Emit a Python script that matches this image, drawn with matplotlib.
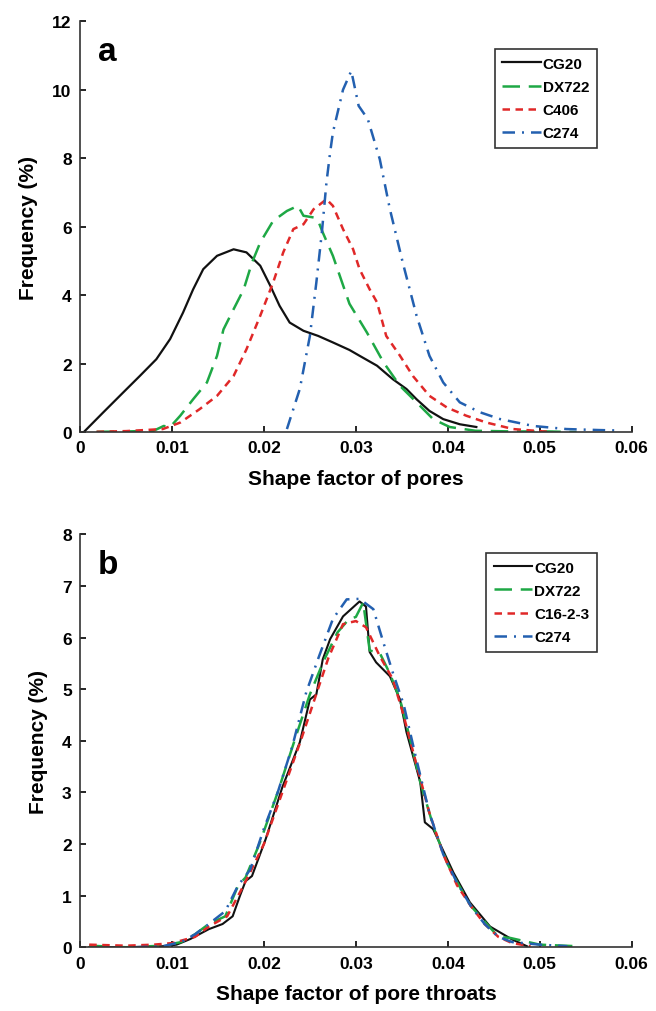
"""
Shape factor distributions of pores and pore throats.
"""

import matplotlib.pyplot as plt

plt.rcParams["font.family"] = ["Liberation Sans", "DejaVu Sans"]
plt.rcParams["font.weight"] = "bold"

# ---- panel a: pores ----
a_cg20_x = [0.0004, 0.0025, 0.0047, 0.0065, 0.0083, 0.0098, 0.0112, 0.0123, 0.0134, 0.0149, 0.0167,
            0.0181, 0.0196, 0.0207, 0.0217, 0.0228, 0.0243, 0.0259, 0.0275, 0.0293, 0.0304, 0.0323,
            0.034, 0.0355, 0.0366, 0.038, 0.0395, 0.0413, 0.0431]
a_cg20_y = [0.0, 0.57, 1.16, 1.64, 2.13, 2.72, 3.49, 4.17, 4.76, 5.15, 5.34,
            5.25, 4.86, 4.27, 3.69, 3.2, 2.96, 2.81, 2.62, 2.4, 2.23, 1.94,
            1.55, 1.26, 0.96, 0.62, 0.38, 0.23, 0.15]

a_dx722_x = [0.0018, 0.005, 0.008, 0.0091, 0.0098, 0.0109, 0.0123, 0.0138, 0.0149, 0.0156, 0.0167,
             0.0178, 0.0187, 0.0196, 0.021, 0.0225, 0.0237, 0.0243, 0.0254, 0.0259, 0.0264, 0.0275,
             0.0293, 0.0312, 0.033, 0.0348, 0.0366, 0.0384, 0.0402, 0.043, 0.047, 0.051, 0.054]
a_dx722_y = [0.01, 0.02, 0.04, 0.18, 0.15, 0.48, 0.96, 1.45, 2.23, 3.0, 3.59,
             4.17, 4.95, 5.54, 6.17, 6.46, 6.61, 6.32, 6.27, 6.17, 5.83, 5.15,
             3.75, 2.91, 2.04, 1.35, 0.87, 0.38, 0.15, 0.04, 0.02, 0.02, 0.0]

a_c406_x = [0.0018, 0.005, 0.009, 0.0109, 0.013, 0.0149, 0.0167, 0.0181, 0.0196, 0.021, 0.0221,
            0.0232, 0.0243, 0.0254, 0.0268, 0.0275, 0.0286, 0.0297, 0.0304, 0.0315, 0.0323, 0.0333,
            0.0348, 0.0362, 0.038, 0.0399, 0.042, 0.0442, 0.0471, 0.0514]
a_c406_y = [0.01, 0.03, 0.09, 0.28, 0.67, 1.06, 1.64, 2.42, 3.4, 4.37, 5.25,
            5.93, 6.07, 6.51, 6.8, 6.61, 5.93, 5.34, 4.76, 4.17, 3.79, 2.81,
            2.23, 1.64, 1.06, 0.72, 0.48, 0.28, 0.09, 0.0]

a_c274_x = [0.0225, 0.0239, 0.025, 0.0257, 0.0263, 0.0268, 0.0272, 0.0275, 0.0286, 0.0295, 0.0303,
            0.0313, 0.0326, 0.0337, 0.0351, 0.0366, 0.038, 0.0395, 0.0413, 0.0435, 0.0457, 0.0493,
            0.0529, 0.0565, 0.0582]
a_c274_y = [0.09, 1.26, 2.81, 4.37, 5.83, 7.29, 8.17, 8.75, 10.0, 10.55, 9.53,
            9.14, 7.97, 6.51, 4.95, 3.4, 2.23, 1.45, 0.87, 0.58, 0.38, 0.18,
            0.09, 0.06, 0.05]

# ---- panel b: pore throats ----
b_cg20_x = [0.001, 0.005, 0.009, 0.0105, 0.012, 0.0140, 0.0155, 0.0166, 0.0174, 0.018, 0.0187, 0.0202,
            0.0220, 0.0239, 0.025, 0.0257, 0.0264, 0.0272, 0.0286, 0.0304, 0.0311, 0.0315, 0.0322,
            0.0337, 0.0348, 0.0355, 0.037, 0.0375, 0.0384, 0.0406, 0.0424, 0.0446, 0.047, 0.0486]
b_cg20_y = [0.0, 0.0, 0.02, 0.05, 0.16, 0.35, 0.45, 0.6, 1.0, 1.28, 1.38, 2.1,
            3.1, 3.97, 4.8, 4.9, 5.58, 5.97, 6.41, 6.7, 6.6, 5.72, 5.52,
            5.25, 4.8, 4.17, 3.2, 2.42, 2.29, 1.45, 0.87, 0.4, 0.15, 0.02]

b_dx722_x = [0.001, 0.005, 0.009, 0.011, 0.0125, 0.014, 0.0158, 0.0172, 0.0180, 0.0195, 0.0215,
             0.0235, 0.0250, 0.0265, 0.0280, 0.0292, 0.0300, 0.0308, 0.0315, 0.0326, 0.0337, 0.0348,
             0.0358, 0.0370, 0.0385, 0.040, 0.0412, 0.0425, 0.0440, 0.0455, 0.0468, 0.050, 0.054]
b_dx722_y = [0.03, 0.0, 0.03, 0.1, 0.25, 0.45, 0.6, 1.2, 1.35, 2.0, 3.0,
             4.1, 4.9, 5.55, 6.1, 6.35, 6.4, 6.68, 5.75, 5.7, 5.3, 4.8,
             4.1, 3.2, 2.3, 1.6, 1.2, 0.8, 0.5, 0.2, 0.18, 0.05, 0.02]

b_c1623_x = [0.001, 0.005, 0.008, 0.010, 0.0125, 0.014, 0.0160, 0.0175, 0.0185, 0.0200, 0.0220,
             0.0240, 0.0255, 0.0270, 0.0286, 0.0300, 0.0311, 0.0326, 0.0340, 0.0351, 0.0365,
             0.0380, 0.0395, 0.0410, 0.0425, 0.0440, 0.0455, 0.0470, 0.049]
b_c1623_y = [0.05, 0.03, 0.05, 0.08, 0.2, 0.4, 0.6, 1.1, 1.45, 2.0, 3.0,
             4.0, 4.8, 5.6, 6.26, 6.32, 6.2, 5.64, 5.2, 4.55, 3.6,
             2.6, 1.8, 1.2, 0.8, 0.45, 0.2, 0.08, 0.02]

b_c274_x = [0.006, 0.009, 0.011, 0.0125, 0.014, 0.0158, 0.0172, 0.0185, 0.0200, 0.0215, 0.0231,
            0.0246, 0.0260, 0.0275, 0.0290, 0.0304, 0.0319, 0.0330, 0.0340, 0.0352, 0.0365,
            0.0380, 0.0395, 0.0410, 0.0425, 0.0440, 0.0455, 0.0470, 0.050, 0.053]
b_c274_y = [0.0, 0.02, 0.1, 0.25, 0.45, 0.7, 1.2, 1.5, 2.3, 3.0, 3.9,
            4.94, 5.64, 6.36, 6.74, 6.75, 6.55, 5.9, 5.33, 4.7, 3.7,
            2.6, 1.8, 1.25, 0.8, 0.45, 0.2, 0.1, 0.05, 0.02]

BLACK = "#111111"
GREEN = "#1ea845"
RED = "#e02828"
BLUE = "#2360b0"


def style_axis(ax, ymax, xlabel, letter, leg_anchor):
    ax.set_xlim(0, 0.06)
    ax.set_ylim(0, ymax)
    ax.set_xticks([0, 0.01, 0.02, 0.03, 0.04, 0.05, 0.06])
    ax.set_xticklabels(["0", "0.01", "0.02", "0.03", "0.04", "0.05", "0.06"])
    ax.spines["top"].set_visible(False)
    ax.spines["right"].set_visible(False)
    for s in ("left", "bottom"):
        ax.spines[s].set_linewidth(1.2)
        ax.spines[s].set_color("#333333")
    ax.tick_params(direction="in", length=4, width=1.2, labelsize=12.5, pad=6)
    for lbl in ax.get_xticklabels() + ax.get_yticklabels():
        lbl.set_fontweight("bold")
    ax.set_xlabel(xlabel, fontsize=15, fontweight="bold", labelpad=10)
    ax.set_ylabel("Frequency (%)", fontsize=15, fontweight="bold", labelpad=10)
    ax.text(0.033, 0.965, letter, transform=ax.transAxes, fontsize=24,
            fontweight="bold", va="top", ha="left")
    leg = ax.legend(loc="upper right", bbox_to_anchor=leg_anchor,
                    prop={"weight": "bold", "size": 11}, frameon=True, fancybox=False,
                    edgecolor="black", handlelength=2.5, handletextpad=0.15,
                    borderpad=0.5, labelspacing=0.6, borderaxespad=0)
    leg.get_frame().set_linewidth(1.2)


fig = plt.figure(figsize=(6.56, 10.12), dpi=100)
ax1 = fig.add_axes([0.122, 0.572, 0.841, 0.406])
ax2 = fig.add_axes([0.122, 0.063, 0.841, 0.408])

lw = 1.8
ax1.plot(a_cg20_x, a_cg20_y, color=BLACK, lw=1.6, label="CG20")
ax1.plot(a_dx722_x, a_dx722_y, color=GREEN, lw=lw, dashes=(7, 3.5), label="DX722")
ax1.plot(a_c406_x, a_c406_y, color=RED, lw=lw, dashes=(3, 2.2), label="C406")
ax1.plot(a_c274_x, a_c274_y, color=BLUE, lw=lw, dashes=(5, 2.8, 0.8, 2.8), label="C274")
style_axis(ax1, 12, "Shape factor of pores", "a", (0.937, 0.932))

ax2.plot(b_cg20_x, b_cg20_y, color=BLACK, lw=1.5, label="CG20")
ax2.plot(b_dx722_x, b_dx722_y, color=GREEN, lw=lw, dashes=(7, 3.5), label="DX722")
ax2.plot(b_c1623_x, b_c1623_y, color=RED, lw=lw, dashes=(3, 2.2), label="C16-2-3")
ax2.plot(b_c274_x, b_c274_y, color=BLUE, lw=lw, dashes=(5, 2.8, 0.8, 2.8), label="C274")
style_axis(ax2, 8, "Shape factor of pore throats", "b", (0.937, 0.955))

fig.savefig("out.png", dpi=100, facecolor="white")
